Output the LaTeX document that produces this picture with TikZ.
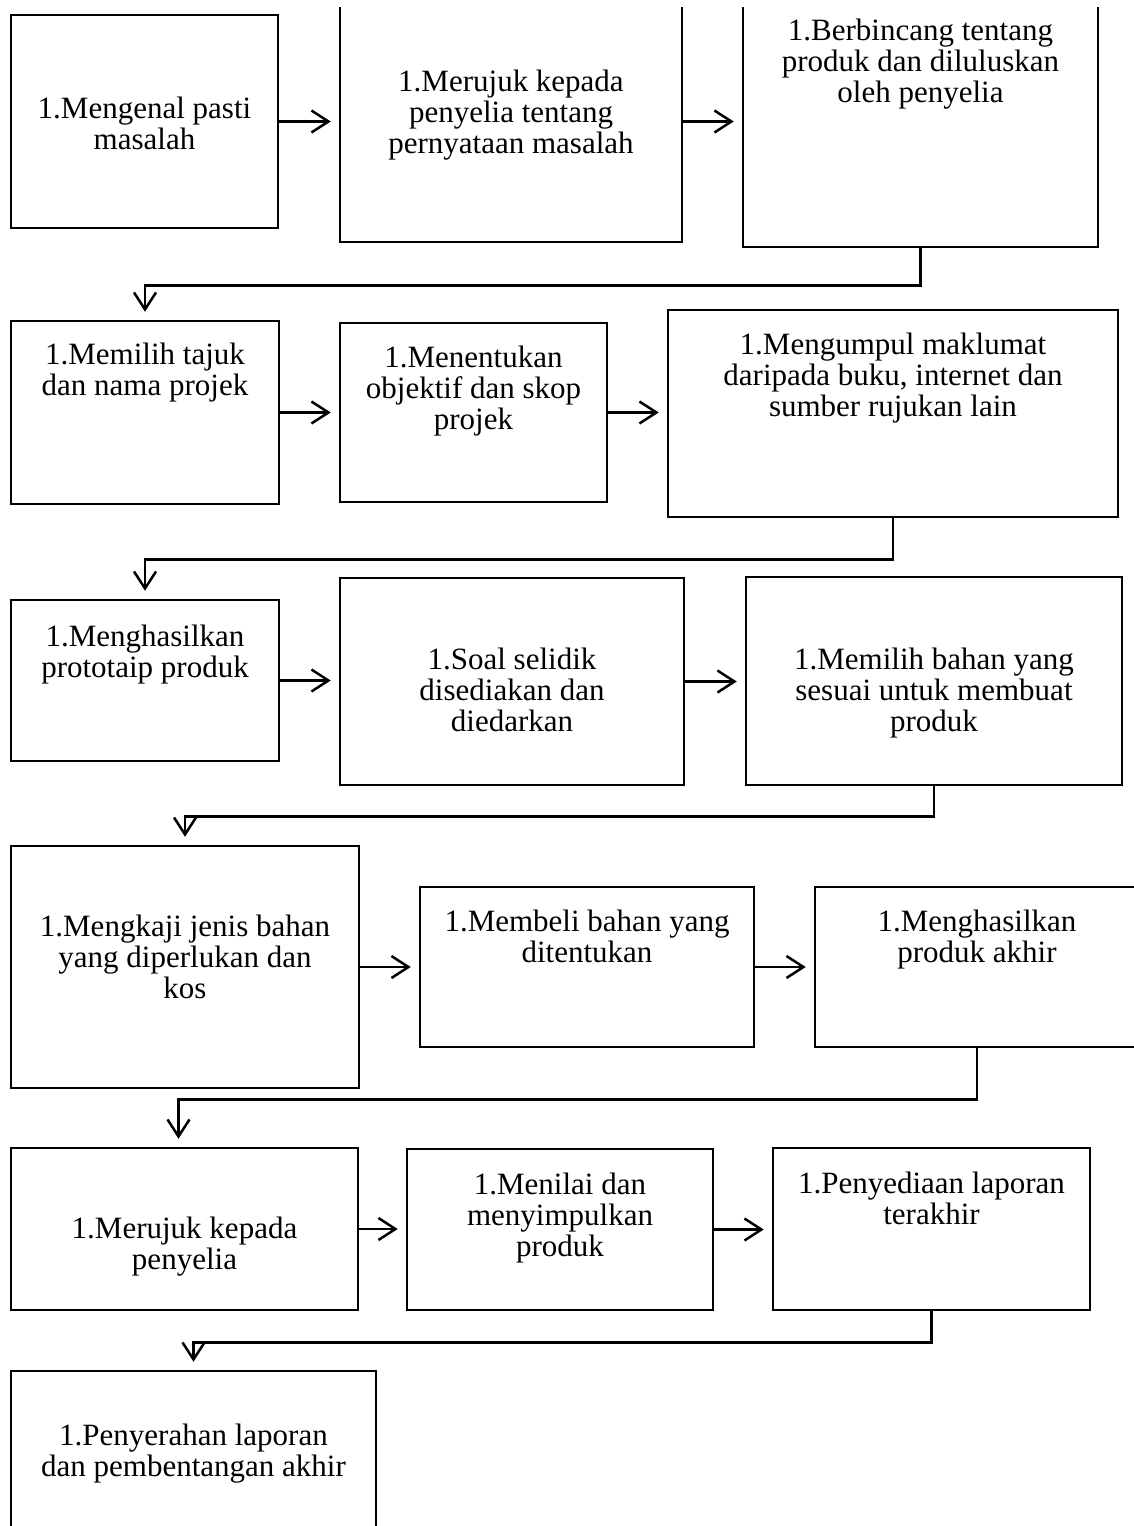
\documentclass[tikz,border=0pt]{standalone}
\usepackage{fontspec}
\setmainfont{Liberation Serif}
\usetikzlibrary{arrows.meta}
\tikzset{
	stepbox/.style={draw,line width=2.5pt,inner sep=0pt},
	steptext/.style={align=center,inner sep=0pt,anchor=north,font=\fontsize{31}{31}\selectfont},
	flow/.style={line width=2.5pt,-{Straight Barb[length=17pt,width=22pt]},shorten >=8pt}
}
\begin{document}
\begin{tikzpicture}[x=1pt,y=-1pt]
			\useasboundingbox (0,0) rectangle (1134,1526);
			\clip (0,7) rectangle (1134,1526);
			\node[stepbox,minimum width=267pt,minimum height=213pt] (kenal) at (144.5,121.5) {};
			\node[stepbox,minimum width=342pt,minimum height=262pt] (rujuk) at (511,111) {};
			\node[stepbox,minimum width=355pt,minimum height=267pt] (bincang) at (920.5,113.5) {};
			\node[steptext] (kenal-t) at (144.5,97) {1.Mengenal pasti\\masalah};
			\node[steptext] (rujuk-t) at (511,70) {1.Merujuk kepada\\penyelia tentang\\pernyataan masalah};
			\node[steptext] (bincang-t) at (920.5,19) {1.Berbincang tentang\\produk dan diluluskan\\oleh penyelia};
			\draw[flow] (kenal.east) -- (kenal.east -| rujuk.west);
			\draw[flow] (rujuk.east |- kenal.east) -- (bincang.west |- kenal.east);
			\node[stepbox,minimum width=268pt,minimum height=183pt] (tajuk) at (145,412.5) {};
			\node[stepbox,minimum width=267pt,minimum height=179pt] (objektif) at (473.5,412.5) {};
			\node[stepbox,minimum width=450pt,minimum height=207pt] (maklumat) at (893,413.5) {};
			\node[steptext] (tajuk-t) at (145,343) {1.Memilih tajuk\\dan nama projek};
			\node[steptext] (objektif-t) at (473.5,346) {1.Menentukan\\objektif dan skop\\projek};
			\node[steptext] (maklumat-t) at (893,333) {1.Mengumpul maklumat\\daripada buku, internet dan\\sumber rujukan lain};
			\draw[flow] (bincang.south) -- ++(0,37) -| (tajuk.north);
			\draw[flow] (tajuk.east) -- (tajuk.east -| objektif.west);
			\draw[flow] (objektif.east) -- (objektif.east -| maklumat.west);
			\node[stepbox,minimum width=268pt,minimum height=161pt] (prototaip) at (145,680.5) {};
			\node[stepbox,minimum width=344pt,minimum height=207pt] (soal) at (512,681.5) {};
			\node[stepbox,minimum width=376pt,minimum height=208pt] (bahan) at (934,681) {};
			\node[steptext] (prototaip-t) at (145,625) {1.Menghasilkan\\prototaip produk};
			\node[steptext] (soal-t) at (512,648) {1.Soal selidik\\disediakan dan\\diedarkan};
			\node[steptext] (bahan-t) at (934,648) {1.Memilih bahan yang\\sesuai untuk membuat\\produk};
			\draw[flow] (maklumat.south) -- ++(0,41) -| (prototaip.north);
			\draw[flow] (prototaip.east) -- (prototaip.east -| soal.west);
			\draw[flow] (soal.east) -- (soal.east -| bahan.west);
			\node[stepbox,minimum width=348pt,minimum height=242pt] (kaji) at (185,967) {};
			\node[stepbox,minimum width=334pt,minimum height=160pt] (beli) at (587,967) {};
			\node[stepbox,minimum width=324pt,minimum height=160pt] (akhir) at (977,967) {};
			\node[steptext] (kaji-t) at (185,915) {1.Mengkaji jenis bahan\\yang diperlukan dan\\kos};
			\node[steptext] (beli-t) at (587,910) {1.Membeli bahan yang\\ditentukan};
			\node[steptext] (akhir-t) at (977,910) {1.Menghasilkan\\produk akhir};
			\draw[flow] (bahan.south) -- ++(0,30) -| (kaji.north);
			\draw[flow] (kaji.east) -- (kaji.east -| beli.west);
			\draw[flow] (beli.east) -- (beli.east -| akhir.west);
			\node[stepbox,minimum width=347pt,minimum height=162pt] (penyelia) at (184.5,1229) {};
			\node[stepbox,minimum width=306pt,minimum height=161pt] (nilai) at (560,1229.5) {};
			\node[stepbox,minimum width=317pt,minimum height=162pt] (laporan) at (931.5,1229) {};
			\node[steptext] (penyelia-t) at (184.5,1217) {1.Merujuk kepada\\penyelia};
			\node[steptext] (nilai-t) at (560,1173) {1.Menilai dan\\menyimpulkan\\produk};
			\node[steptext] (laporan-t) at (931.5,1172) {1.Penyediaan laporan\\terakhir};
			\draw[flow] (akhir.south) -- ++(0,51) -| ([xshift=-6pt]penyelia.north);
			\draw[flow] (penyelia.east) -- (penyelia.east -| nilai.west);
			\draw[flow] (nilai.east) -- (nilai.east -| laporan.west);
			\node[stepbox,minimum width=365pt,minimum height=189pt] (serah) at (193.5,1465.5) {};
			\node[steptext] (serah-t) at (193.5,1424) {1.Penyerahan laporan\\dan pembentangan akhir};
			\draw[flow] (laporan.south) -- ++(0,31) -| (serah.north);
		\end{tikzpicture}
\end{document}
